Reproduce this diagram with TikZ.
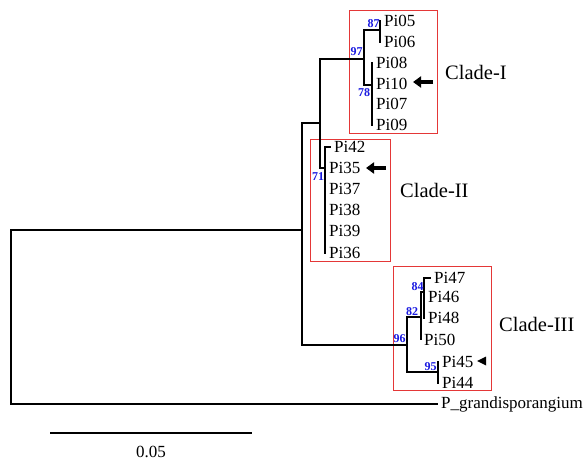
\documentclass[tikz,border=0pt]{standalone}
\usepackage{fontspec}
\setmainfont{Liberation Serif}
\usetikzlibrary{arrows.meta}
\definecolor{bsblue}{RGB}{25,25,225}
\definecolor{boxred}{RGB}{228,55,55}
\begin{document}
\begin{tikzpicture}[x=1pt,y=-1pt,
  br/.style={line width=2pt},
  leaf/.style={anchor=west, inner sep=3pt, font=\fontsize{17}{18}\selectfont},
  bs/.style={font=\bfseries\fontsize{12}{12}\selectfont, text=bsblue, inner sep=0pt},
  cladelab/.style={font=\fontsize{20.5}{22}\selectfont, anchor=west, inner sep=0pt},
  cladebox/.style={draw=boxred, line width=1pt},
  bigarrow/.style={line width=3.8pt, -{Triangle[length=8pt,width=11pt]}}]
\useasboundingbox (0,0) rectangle (585,462);
\fill[white] (0,0) rectangle (585,462);

% red clade boxes
\draw[cladebox] (349.5,10.5) rectangle (437.5,133.5);
\draw[cladebox] (310.5,139.5) rectangle (390.5,261.5);
\draw[cladebox] (393.5,266.5) rectangle (491.5,390.5);

% internal nodes
\coordinate (R) at (11,317);
\coordinate (A) at (302,230);
\coordinate (B) at (320,123);
\coordinate (C1) at (364,59);
\coordinate (n87) at (380,30);
\coordinate (n78) at (372,85);
\coordinate (C2) at (325,168);
\coordinate (C3) at (407,345);
\coordinate (n82) at (421,317);
\coordinate (n84) at (424,292);
\coordinate (n95) at (438,372);

% leaves
\node[leaf] (Pi05) at (381,21) {Pi05};
\node[leaf] (Pi06) at (381,42) {Pi06};
\node[leaf] (Pi08) at (373,63) {Pi08};
\node[leaf] (Pi10) at (373,84) {Pi10};
\node[leaf] (Pi07) at (373,104) {Pi07};
\node[leaf] (Pi09) at (373,125) {Pi09};
\node[leaf] (Pi42) at (331,147) {Pi42};
\node[leaf] (Pi35) at (326,168) {Pi35};
\node[leaf] (Pi37) at (326,189) {Pi37};
\node[leaf] (Pi38) at (326,210) {Pi38};
\node[leaf] (Pi39) at (326,231) {Pi39};
\node[leaf] (Pi36) at (326,253) {Pi36};
\node[leaf] (Pi47) at (431,278) {Pi47};
\node[leaf] (Pi46) at (425,297) {Pi46};
\node[leaf] (Pi48) at (425,318) {Pi48};
\node[leaf] (Pi50) at (421,340) {Pi50};
\node[leaf] (Pi45) at (439,362) {Pi45};
\node[leaf] (Pi44) at (439,383) {Pi44};
\node[leaf] (Pg) at (438,404) {P\_grandisporangium};

% branches
\draw[br] (R) |- (A);
\draw[br] (R) |- (Pg.west);
\draw[br] (A) |- (B);
\draw[br] (A) |- (C3);
\draw[br] (B) |- (C1);
\draw[br] (B) |- (C2);
\draw[br] (C1) |- (n87);
\draw[br] (C1) |- (n78);
\draw[br] (n87) |- (Pi05.west);
\draw[br] (n87) |- (Pi06.west);
\foreach \l in {Pi08,Pi10,Pi07,Pi09} \draw[br] (n78) |- (\l.west);
\foreach \l in {Pi42,Pi35,Pi37,Pi38,Pi39,Pi36} \draw[br] (C2) |- (\l.west);
\draw[br] (C3) |- (n82);
\draw[br] (C3) |- (n95);
\draw[br] (n82) |- (n84);
\draw[br] (n82) |- (Pi50.west);
\foreach \l in {Pi47,Pi46,Pi48} \draw[br] (n84) |- (\l.west);
\foreach \l in {Pi45,Pi44} \draw[br] (n95) |- (\l.west);

% bootstrap values
\node[bs] (b87) at (373.5,24) {87};
\node[bs] (b97) at (356.5,52) {97};
\node[bs] (b78) at (364,93) {78};
\node[bs] (b71) at (318,177) {71};
\node[bs] (b96) at (399.5,339) {96};
\node[bs] (b82) at (412,312) {82};
\node[bs] (b84) at (417.5,287) {84};
\node[bs] (b95) at (430.5,367) {95};

% clade labels
\node[cladelab] (cI) at (445,72) {Clade-I};
\node[cladelab] (cII) at (400,190) {Clade-II};
\node[cladelab] (cIII) at (499,324) {Clade-III};

% arrows
\coordinate (a1s) at (433,82);
\coordinate (a1e) at (413,82);
\draw[bigarrow] (a1s) -- (a1e);
\coordinate (a2s) at (386,168);
\coordinate (a2e) at (366,168);
\draw[bigarrow] (a2s) -- (a2e);
\fill (486,356.5) -- (486,365.5) -- (477,361) -- cycle;

% scale bar
\coordinate (sb1) at (50,433);
\coordinate (sb2) at (252,433);
\draw[br] (sb1) -- (sb2);
\node[font=\fontsize{17}{18}\selectfont, inner sep=0pt] (sbl) at (151,452) {0.05};
\end{tikzpicture}
\end{document}
